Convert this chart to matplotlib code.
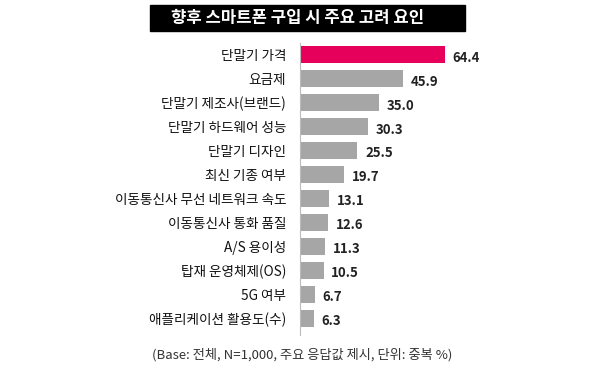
import matplotlib
matplotlib.use("Agg")
import matplotlib.pyplot as plt
from matplotlib.patches import Rectangle

plt.rcParams["font.family"] = ["Noto Sans CJK KR", "DejaVu Sans"]

# data
labels = ["단말기 가격", "요금제", "단말기 제조사(브랜드)", "단말기 하드웨어 성능",
          "단말기 디자인", "최신 기종 여부", "이동통신사 무선 네트워크 속도",
          "이동통신사 통화 품질", "A/S 용이성", "탑재 운영체제(OS)", "5G 여부",
          "애플리케이션 활용도(수)"]
values = [64.4, 45.9, 35.0, 30.3, 25.5, 19.7, 13.1, 12.6, 11.3, 10.5, 6.7, 6.3]
title = "향후 스마트폰 구입 시 주요 고려 요인"
note = "(Base: 전체, N=1,000, 주요 응답값 제시, 단위: 중복 %)"

PINK = "#E6005C"
GRAY = "#A6A6A6"

fig = plt.figure(figsize=(6, 3.73), dpi=100)
ax = fig.add_axes([0.5, 0.102, 0.3, 0.783])

ypos = list(range(len(values)))
colors = [PINK] + [GRAY] * (len(values) - 1)
ax.barh(ypos, values, height=0.72, color=colors)
ax.set_xlim(0, 80)
ax.set_ylim(len(values) - 0.5 + 0.2, -0.5)

for y, v in zip(ypos, values):
    ax.text(v + 3.4, y + 0.12, f"{v:.1f}", va="center", ha="left",
            fontsize=9.5, fontweight="bold", color="#222222")

ax.set_yticks(ypos)
ax.set_yticklabels(labels, fontsize=9.8, color="#111111")
ax.tick_params(axis="y", length=0, pad=10)
ax.set_xticks([])
for s in ["top", "right", "bottom"]:
    ax.spines[s].set_visible(False)
ax.spines["left"].set_color("#BBBBBB")
ax.spines["left"].set_linewidth(0.8)

# title box
fig.patches.append(Rectangle((150 / 600, 1 - 31 / 373), 315 / 600, 26 / 373,
                             transform=fig.transFigure, color="black"))
fig.text(298 / 600, 1 - 18 / 373, title, ha="center", va="center",
         fontsize=12, fontweight="bold", color="white")

fig.text(302 / 600, 1 - 355 / 373, note, ha="center", va="center",
         fontsize=9.5, color="#333333")

fig.savefig("out.png", dpi=100)
